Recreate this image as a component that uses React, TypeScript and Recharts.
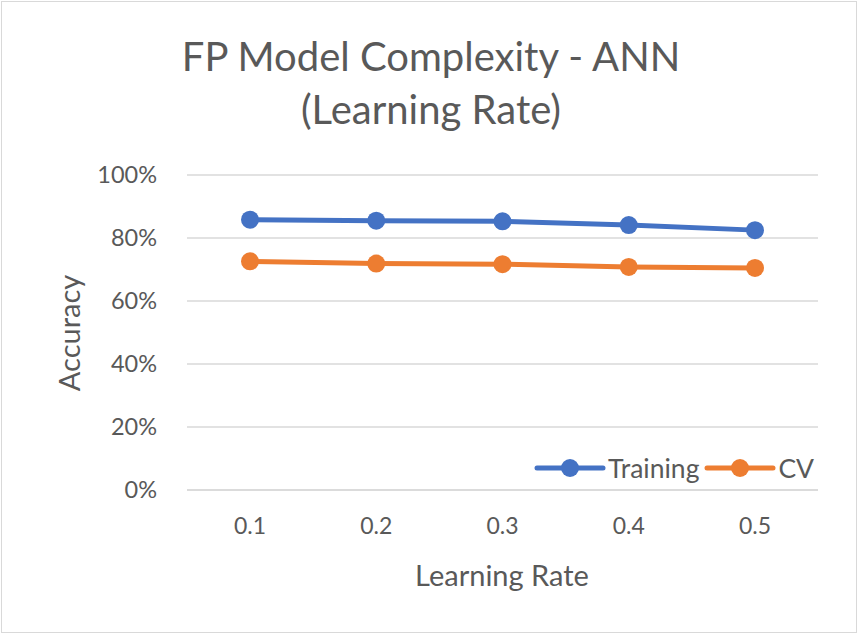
import { CartesianGrid, Line, LineChart, XAxis, YAxis } from "recharts";

const rates = ["0.1", "0.2", "0.3", "0.4", "0.5"];
const training = [0.858, 0.855, 0.853, 0.841, 0.825];
const cv = [0.726, 0.719, 0.717, 0.708, 0.705];
const yTicks = [0, 0.2, 0.4, 0.6, 0.8, 1];
const seriesNames = ["Training", "CV"];
const seriesColors = ["#4472C4", "#ED7D31"];

const data = rates.map((rate, i) => ({ rate, Training: training[i], CV: cv[i] }));

const font = "Lato, 'Open Sans', sans-serif";
const textColor = "#595959";

function ChartLegend() {
  return (
    <div style={{ position: "absolute", left: 534, top: 452, display: "flex", alignItems: "center", fontSize: 26.5, color: textColor }}>
      {seriesNames.map((name, i) => (
        <div key={name} style={{ display: "flex", alignItems: "center", marginRight: 5 }}>
          <svg width={72} height={22}>
            <line x1={3} y1={11} x2={69} y2={11} stroke={seriesColors[i]} strokeWidth={5} strokeLinecap="round" />
            <circle cx={36} cy={11} r={9} fill={seriesColors[i]} />
          </svg>
          <span style={{ marginLeft: 2 }}>{name}</span>
        </div>
      ))}
    </div>
  );
}

export default function App() {
  return (
    <div style={{ position: "absolute", left: 0, top: 0, width: 864, height: 638, background: "#fff", fontFamily: font }}>
      <div style={{ position: "absolute", left: 1, top: 1, width: 854, height: 630, border: "1.5px solid #d9d9d9" }} />
      <div style={{ position: "absolute", left: 0, top: 30, width: 862, textAlign: "center", fontSize: 40, lineHeight: "53px", color: textColor }}>
        FP Model Complexity - ANN
        <br />
        (Learning Rate)
      </div>
      <div style={{ position: "absolute", left: 68, top: 333, transform: "translate(-50%, -50%) rotate(-90deg)", fontSize: 29, color: textColor, whiteSpace: "nowrap" }}>
        Accuracy
      </div>
      <div style={{ position: "absolute", left: 502, top: 574, transform: "translate(-50%, -50%)", fontSize: 29, color: textColor, whiteSpace: "nowrap" }}>
        Learning Rate
      </div>
      <div style={{ position: "absolute", left: 0, top: 0 }}>
        <LineChart width={864} height={638} data={data} margin={{ top: 175, right: 46, bottom: 48, left: 40 }}>
          <CartesianGrid vertical={false} stroke="#d9d9d9" strokeWidth={1.5} />
          <XAxis
            dataKey="rate"
            height={100}
            padding={{ left: 63, right: 63 }}
            axisLine={{ stroke: "#d9d9d9", strokeWidth: 1.5 }}
            tickLine={false}
            tickMargin={22}
            tick={{ fontSize: 23, fill: textColor, fontFamily: font }}
          />
          <YAxis
            width={147}
            domain={[0, 1]}
            ticks={yTicks}
            axisLine={false}
            tickLine={false}
            tickMargin={24}
            tickFormatter={(v: number) => `${Math.round(v * 100)}%`}
            tick={{ fontSize: 23.5, fill: textColor, fontFamily: font }}
          />
          <Line dataKey="Training" stroke={seriesColors[0]} strokeWidth={5} dot={{ r: 9, fill: seriesColors[0], stroke: "none" }} isAnimationActive={false} />
          <Line dataKey="CV" stroke={seriesColors[1]} strokeWidth={5} dot={{ r: 9, fill: seriesColors[1], stroke: "none" }} isAnimationActive={false} />
        </LineChart>
      </div>
      <ChartLegend />
    </div>
  );
}
